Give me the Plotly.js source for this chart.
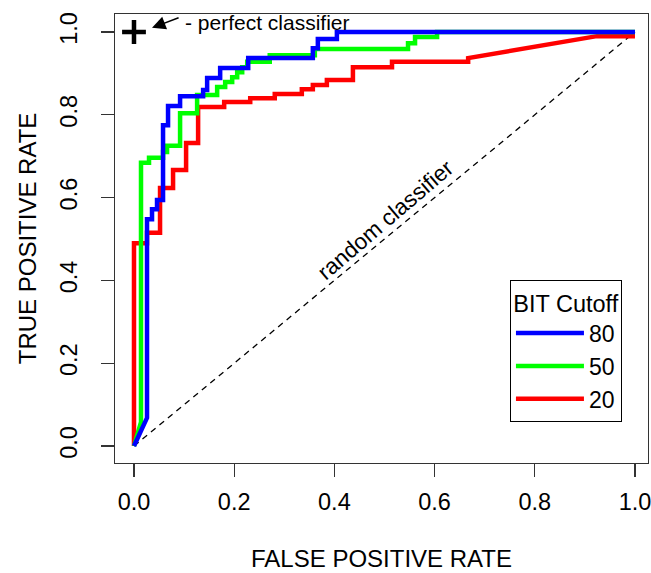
<!DOCTYPE html>
<html>
<head>
<meta charset="utf-8">
<script src="https://cdn.plot.ly/plotly-3.0.1.min.js"></script>
<style>html,body{margin:0;padding:0;background:#fff;}#chart{width:651px;height:573px;}</style>
</head>
<body>
<div id="chart"></div>
<script>
// Series names (legend labels)
const seriesNames = ["80", "50", "20"];
const seriesColors = ["#0000FF", "#00FF00", "#FF0000"];

// BIT cutoff 80 ROC curve
const fpr80 = [0, 0.026, 0.026, 0.036, 0.036, 0.046, 0.046, 0.058, 0.058, 0.068, 0.068, 0.092, 0.092, 0.138, 0.138, 0.146, 0.146, 0.172, 0.172, 0.228, 0.228, 0.357, 0.357, 0.367, 0.367, 0.405, 0.405, 1.0];
const tpr80 = [0, 0.068, 0.548, 0.548, 0.572, 0.572, 0.594, 0.594, 0.775, 0.775, 0.821, 0.821, 0.845, 0.845, 0.86, 0.86, 0.889, 0.889, 0.913, 0.913, 0.937, 0.937, 0.961, 0.961, 0.983, 0.983, 1.0, 1.0];

// BIT cutoff 50 ROC curve
const fpr50 = [0, 0.014, 0.014, 0.03, 0.03, 0.058, 0.058, 0.066, 0.066, 0.092, 0.092, 0.126, 0.126, 0.166, 0.166, 0.182, 0.182, 0.196, 0.196, 0.206, 0.206, 0.216, 0.216, 0.226, 0.226, 0.271, 0.271, 0.361, 0.361, 0.547, 0.547, 0.561, 0.561, 0.605, 0.605, 1.0];
const tpr50 = [0, 0.058, 0.684, 0.684, 0.696, 0.696, 0.71, 0.71, 0.725, 0.725, 0.804, 0.804, 0.848, 0.848, 0.867, 0.867, 0.879, 0.879, 0.891, 0.891, 0.903, 0.903, 0.915, 0.915, 0.928, 0.928, 0.944, 0.944, 0.959, 0.959, 0.973, 0.973, 0.988, 0.988, 1.0, 1.0];

// BIT cutoff 20 ROC curve
const fpr20 = [0, 0, 0.026, 0.026, 0.052, 0.052, 0.078, 0.078, 0.104, 0.104, 0.128, 0.128, 0.18, 0.18, 0.232, 0.232, 0.281, 0.281, 0.335, 0.335, 0.357, 0.357, 0.385, 0.385, 0.437, 0.437, 0.515, 0.515, 0.667, 0.667, 0.924, 1.0];
const tpr20 = [0, 0.49, 0.49, 0.515, 0.515, 0.623, 0.623, 0.667, 0.667, 0.732, 0.732, 0.819, 0.819, 0.831, 0.831, 0.84, 0.84, 0.85, 0.85, 0.862, 0.862, 0.872, 0.872, 0.884, 0.884, 0.915, 0.915, 0.928, 0.928, 0.937, 0.99, 0.99];

// Reference lines / points
const diagX = [0, 1];
const diagY = [0, 1];
const perfectX = [0];
const perfectY = [1];

// Axis ticks
const tickVals = [0, 0.2, 0.4, 0.6, 0.8, 1.0];
const tickText = ["0.0", "0.2", "0.4", "0.6", "0.8", "1.0"];

const FONT = "Liberation Sans, Arial, sans-serif";

const xs = [fpr80, fpr50, fpr20];
const ys = [tpr80, tpr50, tpr20];

const traces = [];
traces.push({
  x: diagX, y: diagY, mode: "lines", showlegend: false, hoverinfo: "skip",
  line: {color: "#000", width: 1.3, dash: "6px,5px"}
});
for (let i = 2; i >= 0; i--) {
  traces.push({
    x: xs[i], y: ys[i], mode: "lines", name: seriesNames[i],
    line: {color: seriesColors[i], width: 4.5}
  });
}
traces.push({
  x: perfectX, y: perfectY, mode: "markers", showlegend: false, hoverinfo: "skip",
  marker: {symbol: "cross-thin", size: 17, color: "#000", line: {color: "#000", width: 4.5}}
});

const layout = {
  width: 651, height: 573,
  margin: {l: 115, r: 3, t: 14, b: 110},
  paper_bgcolor: "#fff", plot_bgcolor: "#fff",
  font: {family: FONT, size: 21, color: "#000"},
  showlegend: true,
  legend: {
    x: 0.741, y: 0.4076, xanchor: "left", yanchor: "top",
    bordercolor: "#000", borderwidth: 1, bgcolor: "#fff",
    font: {family: FONT, size: 23, color: "#000"},
    title: {text: "BIT Cutoff", side: "top center", font: {family: FONT, size: 23.5, color: "#000"}},
    traceorder: "reversed",
    itemwidth: 68
  },
  xaxis: {
    range: [-0.0379, 1.026], autorange: false, automargin: false,
    showgrid: false, zeroline: false,
    showline: true, mirror: true, linecolor: "#333", linewidth: 1.3,
    ticks: "outside", ticklen: 13, tickwidth: 1.3, tickcolor: "#333",
    tickvals: tickVals, ticktext: tickText, ticklabelstandoff: 4,
    ticklabeloverflow: "allow",
    tickfont: {family: FONT, size: 23.5, color: "#000"},
    title: {text: "FALSE POSITIVE RATE", standoff: 36, font: {family: FONT, size: 24, color: "#000"}}
  },
  yaxis: {
    range: [-0.041, 1.0435], autorange: false, automargin: false,
    showgrid: false, zeroline: false,
    showline: true, mirror: true, linecolor: "#333", linewidth: 1.3,
    ticks: "outside", ticklen: 13, tickwidth: 1.3, tickcolor: "#333",
    tickvals: tickVals, ticktext: tickText, tickangle: -90, ticklabelstandoff: 14,
    ticklabeloverflow: "allow",
    tickfont: {family: FONT, size: 23.5, color: "#000"},
    title: {text: "TRUE POSITIVE RATE", standoff: 13, font: {family: FONT, size: 24, color: "#000"}}
  },
  annotations: [
    {
      x: 0.036, y: 1.01, ax: 0.092, ay: 1.036, axref: "x", ayref: "y",
      xref: "x", yref: "y", text: "", showarrow: true,
      arrowhead: 2, arrowsize: 1.8, arrowwidth: 1.5, arrowcolor: "#000"
    },
    {
      x: 0.098, y: 1.024, xref: "x", yref: "y", xanchor: "left", yanchor: "middle",
      text: "- perfect classifier", showarrow: false,
      font: {family: FONT, size: 21, color: "#000"}
    },
    {
      x: 0.503, y: 0.548, xref: "x", yref: "y", xanchor: "center", yanchor: "middle",
      text: "random classifier", showarrow: false, textangle: -40.5,
      font: {family: FONT, size: 22.5, color: "#000"}
    }
  ]
};

Plotly.newPlot("chart", traces, layout, {displayModeBar: false, staticPlot: true});
</script>
</body>
</html>
